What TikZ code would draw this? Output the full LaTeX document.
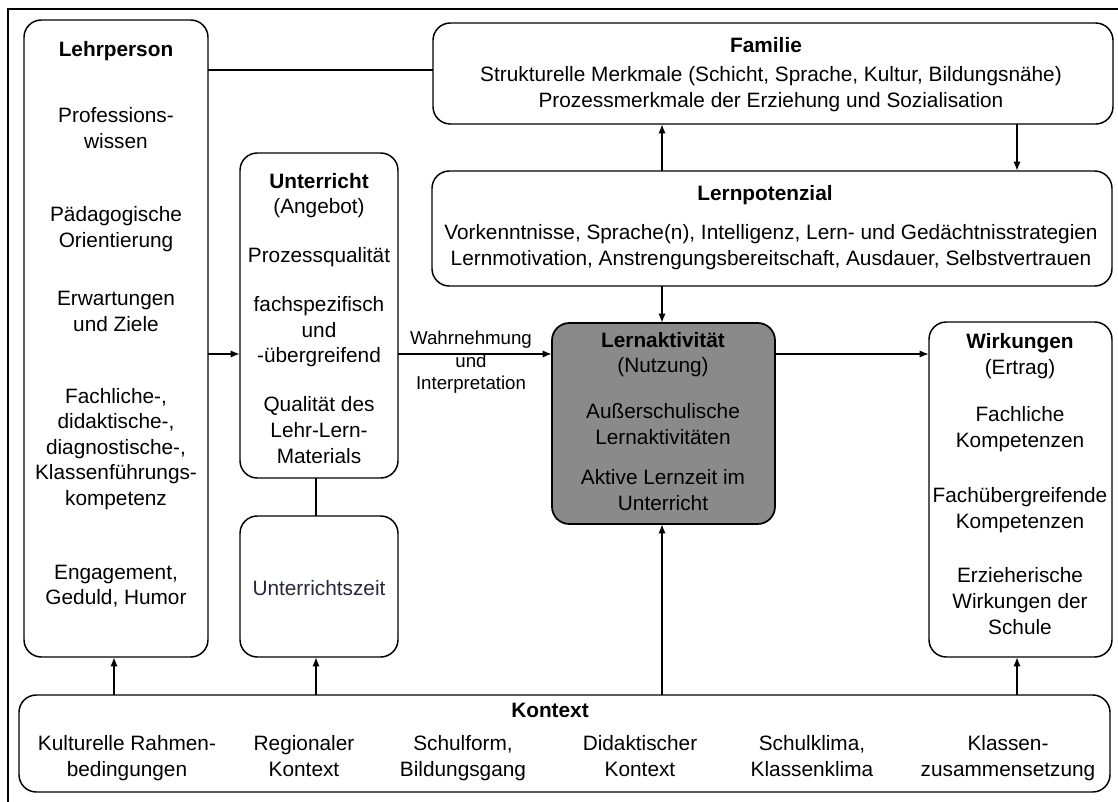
\documentclass[tikz,border=0pt]{standalone}
\usepackage{fontspec}
\setmainfont{Liberation Sans}
\usetikzlibrary{arrows.meta,calc}
\definecolor{aktgray}{RGB}{138,138,138}
\definecolor{zeitcol}{RGB}{40,40,60}
\tikzset{
  box/.style={draw, line width=1.1pt, rounded corners=13pt, inner sep=0pt, outer sep=0pt},
  txt/.style={anchor=base, align=center, inner sep=0pt, font=\fontsize{15.6}{19.2}\selectfont},
  small/.style={anchor=base, align=center, inner sep=0pt, font=\fontsize{14}{16.9}\selectfont},
  arr/.style={line width=1.5pt, -{Latex[length=7pt,width=5.5pt]}},
  ln/.style={line width=1.5pt}
}
\begin{document}
\begin{tikzpicture}[x=0.75pt,y=-0.75pt]
\useasboundingbox (0,0) rectangle (1118,802);
% outer frame (top and left edges)
\coordinate (fTL) at (8,9);
\coordinate (fTR) at (1118,9);
\coordinate (fBL) at (8,802);
\draw[line width=0.9pt] (fTR) -- (fTL) -- (fBL);

% boxes
\node[box, minimum width=138pt, minimum height=477.75pt] (lehr) at (116,338.5) {};
\node[box, minimum width=510pt, minimum height=75.75pt] (fam) at (773,73.5) {};
\node[box, minimum width=510pt, minimum height=86.25pt] (pot) at (772,228.5) {};
\node[box, minimum width=118.5pt, minimum height=243.75pt] (unt) at (319,315.5) {};
\node[box, minimum width=118.5pt, minimum height=105.75pt] (uzeit) at (319,586.5) {};
\node[box, fill=aktgray, line width=1.3pt, minimum width=167.25pt, minimum height=150.75pt] (akt) at (663.5,423.5) {};
\node[box, minimum width=137.25pt, minimum height=251.25pt] (wirk) at (1020.5,489.5) {};
\node[box, minimum width=818.25pt, minimum height=72.75pt] (kon) at (564.5,743.5) {};

% (multi-line text nodes are placed at the baseline of their last line)
% Lehrperson texts
\node[txt] (l1) at (116,57) {\textbf{Lehrperson}};
\node[txt] (l2) at (116,148.6) {Professions-\\wissen};
\node[txt] (l3) at (116,247.6) {Pädagogische\\Orientierung};
\node[txt] (l4) at (116,331.6) {Erwartungen\\und Ziele};
\node[txt] (l5) at (116,505.4) {Fachliche-,\\didaktische-,\\diagnostische-,\\Klassenführungs-\\kompetenz};
\node[txt] (l6) at (116,604.6) {Engagement,\\Geduld, Humor};

% Unterricht texts
\node[txt] (u1) at (319,214) {\textbf{Unterricht}\\(Angebot)};
\node[txt] (u2) at (319,263) {Prozessqualität};
\node[txt] (u3) at (319,363) {fachspezifisch\\und\\-übergreifend};
\node[txt] (u4) at (319,463) {Qualität des\\Lehr-Lern-\\Materials};
\node[txt, text=zeitcol] (z1) at (319,595) {Unterrichtszeit};

% Familie
\node[txt] (f1) at (766,53) {\textbf{Familie}};
\node[txt] (f2) at (771,107.6) {Strukturelle Merkmale (Schicht, Sprache, Kultur, Bildungsnähe)\\Prozessmerkmale der Erziehung und Sozialisation};

% Lernpotenzial
\node[txt] (p1) at (765,201) {\textbf{Lernpotenzial}};
\node[txt] (p2) at (771,265.6) {Vorkenntnisse, Sprache(n), Intelligenz, Lern- und Gedächtnisstrategien\\Lernmotivation, Anstrengungsbereitschaft, Ausdauer, Selbstvertrauen};

% Lernaktivitaet
\node[txt] (a1) at (663,373) {\textbf{Lernaktivität}\\(Nutzung)};
\node[txt] (a2) at (663,444) {Außerschulische\\Lernaktivitäten};
\node[txt] (a3) at (663,510) {Aktive Lernzeit im\\Unterricht};

% Wirkungen
\node[txt] (w1) at (1020,374) {\textbf{Wirkungen}\\(Ertrag)};
\node[txt] (w2) at (1020,447) {Fachliche\\Kompetenzen};
\node[txt] (w3) at (1020,528) {Fachübergreifende\\Kompetenzen};
\node[txt] (w4) at (1020,634) {Erzieherische\\Wirkungen der\\Schule};

% Kontext
\node[txt] (k0) at (550,717) {\textbf{Kontext}};
\node[txt] (k1) at (127,776) {Kulturelle Rahmen-\\bedingungen};
\node[txt] (k2) at (304,776) {Regionaler\\Kontext};
\node[txt] (k3) at (463,776) {Schulform,\\Bildungsgang};
\node[txt] (k4) at (640,776) {Didaktischer\\Kontext};
\node[txt] (k5) at (812,776) {Schulklima,\\Klassenklima};
\node[txt] (k6) at (1008,776) {Klassen-\\zusammensetzung};

% helper coordinates for connector positions
\coordinate (xM) at (662,0);
\coordinate (xR) at (1017,0);
\coordinate (xU) at (316,0);
\coordinate (xL) at (114,0);
\coordinate (yA) at (0,354);
\coordinate (yF) at (0,70);

% connectors
\draw[ln] (lehr.east |- yF) -- (fam.west |- yF);
\draw[arr] (fam.south -| xR) -- (pot.north -| xR);
\draw[arr] (pot.north -| xM) -- (fam.south -| xM);
\draw[arr] (pot.south -| xM) -- (akt.north -| xM);
\draw[arr] (lehr.east |- yA) -- (unt.west |- yA);
\draw[arr] (unt.east |- yA) -- (akt.west |- yA);
\draw[arr] (akt.east |- yA) -- (wirk.west |- yA);
\draw[ln] (unt.south -| xU) -- (uzeit.north -| xU);
\draw[arr] (kon.north -| xL) -- (lehr.south -| xL);
\draw[arr] (kon.north -| xU) -- (uzeit.south -| xU);
\draw[arr] (kon.north -| xM) -- (akt.south -| xM);
\draw[arr] (kon.north -| xR) -- (wirk.south -| xR);

% label on connector
\node[small] (wahr) at (471,390) {Wahrnehmung\\und\\Interpretation};
\end{tikzpicture}
\end{document}
